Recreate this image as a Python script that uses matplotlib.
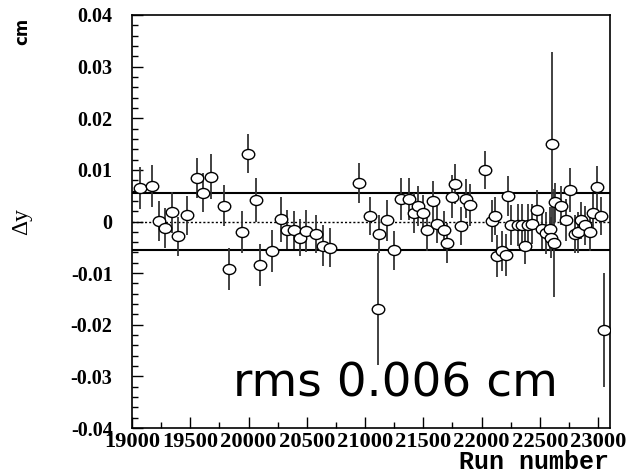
import numpy as np
import matplotlib
matplotlib.use("Agg")
import matplotlib.pyplot as plt
from matplotlib.path import Path
from matplotlib.ticker import MultipleLocator, FixedLocator, FixedFormatter

# ---- data ----
run = [19069, 19174, 19232, 19283, 19340, 19391, 19469, 19557, 19612, 19682,
       19786, 19832, 19946, 19998, 20061, 20098, 20203, 20275, 20332, 20389,
       20441, 20492, 20578, 20635, 20698, 20947, 21041, 21120, 21115, 21184,
       21247, 21304, 21378, 21419, 21450, 21499, 21530, 21579, 21613, 21678,
       21704, 21745, 21768, 21819, 21870, 21899, 22027, 22085, 22113, 22136,
       22176, 22213, 22228, 22256, 22308, 22350, 22376, 22399, 22436, 22472,
       22522, 22551, 22585, 22599, 22605, 22628, 22623, 22677, 22728, 22759,
       22805, 22828, 22851, 22891, 22931, 22956, 22988, 23020, 23054]
dy = [0.0065, 0.0069, 0.0001, -0.0012, 0.0018, -0.0029, 0.0012, 0.0084, 0.0056, 0.0087,
      0.0031, -0.0092, -0.0020, 0.0131, 0.0042, -0.0084, -0.0057, 0.0004, -0.0016, -0.0016,
      -0.0031, -0.0018, -0.0024, -0.0047, -0.0051, 0.0075, 0.0011, -0.0024, -0.0169, 0.0002,
      -0.0056, 0.0044, 0.0044, 0.0016, 0.0030, 0.0016, -0.0016, 0.0040, -0.0004, -0.0016,
      -0.0042, 0.0048, 0.0073, -0.0009, 0.0044, 0.0032, 0.0100, 0.0001, 0.0010, -0.0067,
      -0.0057, -0.0065, 0.0049, -0.0007, -0.0007, -0.0007, -0.0047, -0.0007, -0.0005, 0.0022,
      -0.0015, -0.0022, -0.0014, -0.0031, 0.0150, 0.0037, -0.0042, 0.0031, 0.0003, 0.0061,
      -0.0024, -0.0021, 0.0002, -0.0007, -0.0020, 0.0017, 0.0066, 0.0011, -0.0210]
err = [0.0040, 0.0040, 0.0038, 0.0039, 0.0040, 0.0037, 0.0038, 0.0039, 0.0038, 0.0043,
       0.0039, 0.0040, 0.0041, 0.0038, 0.0043, 0.0040, 0.0040, 0.0043, 0.0038, 0.0037,
       0.0035, 0.0041, 0.0037, 0.0040, 0.0038, 0.0039, 0.0037, 0.0037, 0.0108, 0.0040,
       0.0037, 0.0041, 0.0041, 0.0039, 0.0038, 0.0036, 0.0041, 0.0039, 0.0038, 0.0037,
       0.0039, 0.0042, 0.0039, 0.0037, 0.0038, 0.0040, 0.0037, 0.0040, 0.0037, 0.0040,
       0.0039, 0.0041, 0.0039, 0.0039, 0.0040, 0.0040, 0.0035, 0.0040, 0.0039, 0.0039,
       0.0038, 0.0040, 0.0042, 0.0040, 0.0178, 0.0038, 0.0105, 0.0038, 0.0041, 0.0043,
       0.0037, 0.0040, 0.0035, 0.0038, 0.0037, 0.0036, 0.0041, 0.0037, 0.0110]
band = 0.0055
xticks = [19000, 19500, 20000, 20500, 21000, 21500, 22000, 22500, 23000]
xticklabels = ["19000", "19500", "20000", "20500", "21000", "21500", "22000", "22500", "23000"]
yticks = [-0.04, -0.03, -0.02, -0.01, 0.0, 0.01, 0.02, 0.03, 0.04]
yticklabels = ["-0.04", "-0.03", "-0.02", "-0.01", "0", "0.01", "0.02", "0.03", "0.04"]
rms_text = "rms 0.006 cm"

# ---- figure ----
fig = plt.figure(figsize=(6.3, 4.76), dpi=100)
ax = fig.add_axes([0.2095, 0.1008, 0.7585, 0.8677])
ax.set_xlim(19000, 23100)
ax.set_ylim(-0.04, 0.04)

ax.axhline(band, color="black", lw=1.5, zorder=1)
ax.axhline(-band, color="black", lw=1.5, zorder=1)
ax.axhline(0, color="black", lw=1.0, ls=(0, (1.5, 1.5)), zorder=1)

circ = Path.unit_circle()
ell = Path(circ.vertices * np.array([1.25, 1.0]), circ.codes)

ax.errorbar(run, dy, yerr=err, fmt="none", ecolor="#333333", elinewidth=1.3, capsize=0, zorder=2)
ax.plot(run, dy, ls="none", marker=ell, ms=9, mfc="white", mec="black", mew=1.0, zorder=3)

ax.xaxis.set_major_locator(FixedLocator(xticks))
ax.xaxis.set_major_formatter(FixedFormatter(xticklabels))
ax.xaxis.set_minor_locator(MultipleLocator(250))
ax.yaxis.set_major_locator(FixedLocator(yticks))
ax.yaxis.set_major_formatter(FixedFormatter(yticklabels))
ax.yaxis.set_minor_locator(MultipleLocator(0.002))

ax.tick_params(which="both", direction="in", top=False, right=False)
ax.tick_params(which="major", length=8, width=1)
ax.tick_params(which="minor", length=4, width=1)
ax.tick_params(axis="x", pad=3)
ax.tick_params(axis="y", pad=14)

for lab in ax.get_xticklabels():
    lab.set_family("Liberation Serif"); lab.set_weight("bold"); lab.set_fontsize(16.2)
for lab in ax.get_yticklabels():
    lab.set_family("Liberation Serif"); lab.set_weight("bold"); lab.set_fontsize(14.5)

for s in ax.spines.values():
    s.set_linewidth(1.2)

ax.text(0.212, 0.077, rms_text, transform=ax.transAxes, fontsize=33.8,
        family="DejaVu Sans", ha="left", va="baseline")

fig.text(0.966, 0.014, "Run number", family="Liberation Mono", weight="bold",
         fontsize=18, ha="right", va="baseline")
fig.text(0.035, 0.534, "Δy", family="Liberation Serif", fontsize=17,
         rotation=90, ha="center", va="center")
fig.text(0.035, 0.935, "cm", family="DejaVu Sans", weight="bold", fontsize=12,
         rotation=90, ha="center", va="center")

fig.savefig("out.png", dpi=100)
